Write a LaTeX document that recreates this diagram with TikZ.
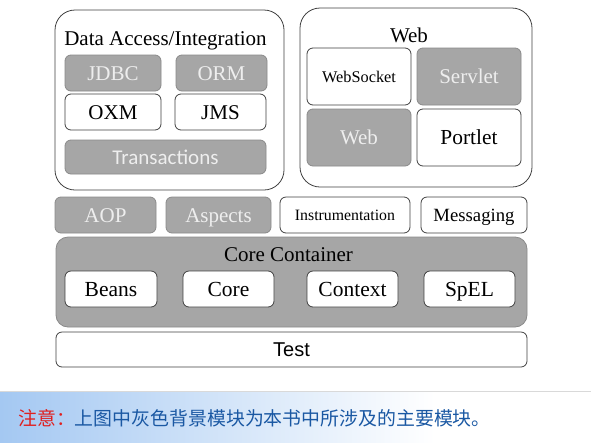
\documentclass[tikz,border=0pt]{standalone}
\usepackage{fontspec}
\setmainfont{Liberation Serif}
\newfontfamily\arialf{Liberation Sans}
\newfontfamily\calf{Carlito}
\newfontfamily\cjk{Noto Sans CJK SC}
\definecolor{boxgray}{HTML}{A6A6A6}
\definecolor{boxedge}{HTML}{8A8A8A}
\definecolor{lightText}{HTML}{EEEEEE}
\definecolor{darkedge}{HTML}{404040}
\definecolor{bannerblue}{HTML}{A4C8F2}
\definecolor{notered}{HTML}{E0201F}
\definecolor{noteblue}{HTML}{1A58A3}
\newcommand{\fs}[1]{\fontsize{#1}{#1}\selectfont}
\begin{document}
\begin{tikzpicture}[x=1pt,y=-1pt,
  sz/.style={font=\fs{#1},text height={0.9*#1pt},text depth={0.2*#1pt}},
  base/.style={rectangle,rounded corners=6pt,inner sep=0pt,outer sep=0pt,line width=0.8pt},
  graybox/.style={base,draw=boxedge,fill=boxgray,text=lightText},
  whitebox/.style={base,draw=darkedge,fill=white,text=black},
  outerbox/.style={base,rounded corners=20pt,draw=darkedge,fill=white},
  ttl/.style={inner sep=0pt,sz=21}
]
\useasboundingbox (0,0) rectangle (591,445);
% Data Access / Integration
\node[outerbox,minimum width=229pt,minimum height=180pt] (data) at (169.5,100) {};
\node[ttl] (dataT) at (165.5,38) {Data Access/Integration};
\node[graybox,minimum width=96pt,minimum height=36pt,sz=21] (jdbc) at (113,73) {JDBC};
\node[graybox,minimum width=91pt,minimum height=36pt,sz=21] (orm) at (221.5,73) {ORM};
\node[whitebox,minimum width=96pt,minimum height=36pt,sz=21] (oxm) at (113,112) {OXM};
\node[whitebox,minimum width=91pt,minimum height=36pt,sz=21] (jms) at (220.5,112) {JMS};
\node[graybox,minimum width=201pt,minimum height=34pt,sz=21,font=\calf\fs{21}] (trans) at (165.5,157) {Transactions};
% Web
\node[outerbox,minimum width=232pt,minimum height=179pt] (web) at (416,97.5) {};
\node[ttl] (webT) at (409,35) {Web};
\node[whitebox,minimum width=104pt,minimum height=57pt,sz=16.3] (wsock) at (359,76.5) {WebSocket};
\node[graybox,minimum width=104pt,minimum height=57pt,sz=21] (servlet) at (469,76.5) {Servlet};
\node[graybox,minimum width=104pt,minimum height=57pt,sz=21] (webin) at (359,137.5) {Web};
\node[whitebox,minimum width=104pt,minimum height=57pt,sz=21.4] (portlet) at (469,137.5) {Portlet};
% middle row
\node[graybox,minimum width=101pt,minimum height=36pt,sz=21] (aop) at (105.5,215) {AOP};
\node[graybox,minimum width=105pt,minimum height=36pt,sz=21] (aspects) at (218.5,215) {Aspects};
\node[whitebox,minimum width=130pt,minimum height=36pt,sz=15.8] (instr) at (345,215) {Instrumentation};
\node[whitebox,minimum width=106pt,minimum height=36pt,sz=18.7] (msg) at (474,215) {Messaging};
% Core container
\node[base,rounded corners=12pt,draw=boxedge,fill=boxgray,minimum width=471pt,minimum height=90pt] (core) at (291.5,282) {};
\node[ttl] (coreT) at (288.5,254) {Core Container};
\node[whitebox,minimum width=92pt,minimum height=36pt,sz=21.5] (beans) at (111,289) {Beans};
\node[whitebox,minimum width=91pt,minimum height=36pt,sz=21.5] (corein) at (228.5,289) {Core};
\node[whitebox,minimum width=91pt,minimum height=36pt,sz=21.5] (context) at (352.5,289) {Context};
\node[whitebox,minimum width=91pt,minimum height=36pt,sz=21.5] (spel) at (469.5,289) {SpEL};
% Test
\node[whitebox,minimum width=471pt,minimum height=35pt,sz=20,font=\arialf\fs{20}] (test) at (291.5,349.5) {Test};
% banner
\shade[left color=bannerblue,right color=white] (0,391) rectangle (435,442);
\draw[white!85!black,line width=0.6pt] (0,391) -- (591,391);
\node[anchor=west,inner sep=0pt,font=\cjk\fs{18.9}] (note) at (18,418)
  {\textcolor{notered}{注意：}\textcolor{noteblue}{上图中灰色背景模块为本书中所涉及的主要模块。}};
\end{tikzpicture}
\end{document}
